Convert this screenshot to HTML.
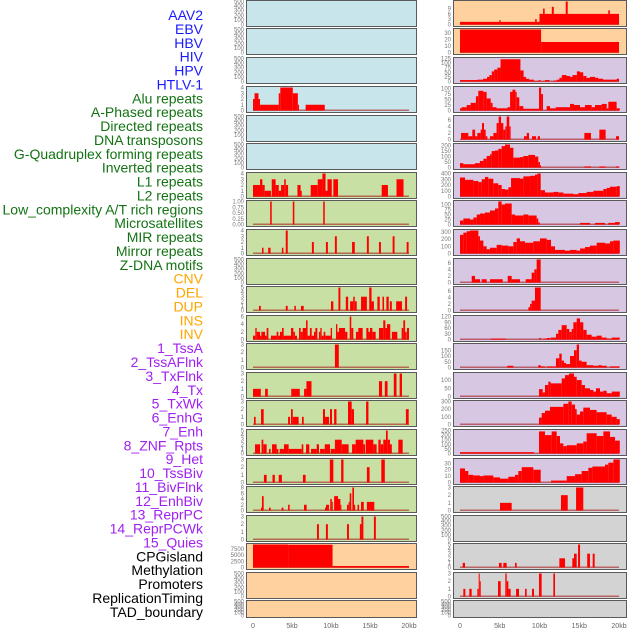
<!DOCTYPE html>
<html><head><meta charset="utf-8">
<style>
html,body{margin:0;padding:0;background:#fff;}
#chart{position:absolute;left:0;top:0;width:630px;height:630px;}
text{font-family:"Liberation Sans",sans-serif;}
</style></head>
<body>
<svg id="chart" width="630" height="630" viewBox="0 0 630 630" xmlns="http://www.w3.org/2000/svg"></svg>
<script>
// ---- Category labels ----
const labels = ["AAV2","EBV","HBV","HIV","HPV","HTLV-1","Alu repeats","A-Phased repeats","Directed repeats","DNA transposons","G-Quadruplex forming repeats","Inverted repeats","L1 repeats","L2 repeats","Low_complexity A/T rich regions","Microsatellites","MIR repeats","Mirror repeats","Z-DNA motifs","CNV","DEL","DUP","INS","INV","1_TssA","2_TssAFlnk","3_TxFlnk","4_Tx","5_TxWk","6_EnhG","7_Enh","8_ZNF_Rpts","9_Het","10_TssBiv","11_BivFlnk","12_EnhBiv","13_ReprPC","14_ReprPCWk","15_Quies","CPGisland","Methylation","Promoters","ReplicationTiming","TAD_boundary"];
const labelGroups = ["v","v","v","v","v","v","r","r","r","r","r","r","r","r","r","r","r","r","r","s","s","s","s","s","c","c","c","c","c","c","c","c","c","c","c","c","c","c","c","o","o","o","o","o"];
const xTickLabels = ["0","5kb","10kb","15kb","20kb"];
const xTickValues = [0,5,10,15,20];
const emptyTicks = [0,100,200,300,400,500];

// ---- Left column series: [startKb, endKb, value] ----
const L1=[],L2=[],L3=[],L5=[],L6=[],L10=[],L21=[],L22=[];
const L4=[[0,0.2,2],[0.2,0.7,3],[0.7,0.9,2],[0.9,3.3,1],[3.3,3.5,3],[3.5,5.1,4],[5.1,5.75,3],[5.75,5.9,1],[6.75,9.2,1]];
const L7=[[0,0.9,2],[0.9,1.2,3],[1.2,1.5,2],[1.5,2.3,1],[2.4,2.9,3],[2.9,3.3,2],[3.3,3.6,1],[3.6,4.0,2],[4.0,4.2,3],[4.2,4.5,2],[5.7,6.1,2],[6.1,6.25,1],[7.4,8.3,2],[8.3,8.9,3],[8.9,9.3,4],[9.3,9.55,1],[9.55,10.1,3],[10.3,10.9,3],[16.5,17.3,2],[18.4,19.3,3]];
const L8=[[2.2,2.4,1],[5.1,5.3,1],[9.0,9.2,1]];
const L9=[[1.15,1.35,1],[1.95,2.25,1],[3.7,3.9,1],[4.2,4.45,4],[7.55,7.8,2],[9.35,9.6,2],[10.5,10.75,3],[12.7,13.05,2],[14.6,14.85,3],[16.15,16.4,2],[17.9,18.15,3],[19.7,19.95,2]];
const L11=[[0.77,1.0,1],[4.2,4.45,1],[5.3,5.5,1],[6.15,6.5,1],[10,10.3,2],[10.95,11.2,5],[11.9,12.2,3],[12.45,12.85,2],[12.85,13.05,3],[13.05,13.3,2],[13.85,14.6,3],[14.9,15.2,5],[15.2,15.5,2],[15.95,16.25,3],[16.6,16.8,3],[17.1,17.4,3],[17.55,17.8,2],[18.35,19.1,2],[19.5,19.75,3]];
const L12=[[0,0.3,1],[0.3,0.47,3],[0.47,0.9,2],[0.9,1.07,1],[1.07,1.54,2],[1.54,1.75,1],[1.75,1.97,3],[2.3,3.03,1],[3.03,3.25,2],[3.25,3.46,1],[3.46,3.72,2],[3.72,3.93,3],[3.93,4.87,1],[4.87,5.17,3],[5.17,5.38,2],[5.38,5.64,1],[5.9,6.11,3],[6.11,6.37,2],[6.37,6.8,3],[6.8,7.0,5],[7.0,7.3,1],[7.3,7.52,3],[7.52,7.82,1],[7.82,8.0,2],[8.0,8.25,3],[8.46,8.63,2],[8.63,8.8,3],[8.8,9.06,1],[9.06,9.27,2],[9.27,9.96,1],[9.96,10.13,3],[10.64,10.81,4],[10.81,11.03,2],[11.03,11.8,3],[11.8,12.1,2],[12.4,12.6,6],[12.6,12.86,3],[13.2,13.5,2],[13.5,14.06,3],[14.53,14.8,3],[14.8,15,2],[15,15.3,3],[15.3,15.73,2],[16.15,16.7,3],[16.7,16.97,5],[16.97,17.18,3],[17.18,17.6,4],[17.8,18.5,2],[19.06,19.27,3],[19.27,19.5,5],[19.5,19.7,2],[19.74,20,3]];
const L13=[[10.5,11.0,3]];
const L14=[[0,1.0,1],[1.55,1.9,1],[4.9,6.0,1],[6.55,6.85,1],[6.85,7.5,2],[16.15,16.55,2],[16.9,17.25,2],[18.05,18.4,3],[18.8,19.1,3]];
const L15=[[0.13,0.34,1],[1.03,1.37,2],[4.5,4.74,1],[4.87,5.1,2],[5.1,5.85,1],[6.28,6.5,1],[8.97,9.23,2],[9.23,9.74,1],[9.87,10.13,2],[10.4,10.7,2],[12.18,12.65,3],[12.65,12.95,2],[14.5,14.8,3],[19.6,19.96,2]];
const L16=[[0.26,0.9,2],[1.1,1.32,3],[1.32,1.75,2],[2.05,2.26,1],[2.44,3.03,2],[3.03,3.25,1],[3.42,3.97,1],[3.97,4.57,2],[4.57,6.24,1],[6.24,6.45,2],[6.8,7.22,2],[7.44,8.16,1],[8.16,8.46,2],[8.6,9.2,1],[9.2,9.87,2],[9.96,10.5,1],[10.5,11.37,3],[11.37,12.26,2],[12.7,13.16,2],[13.16,14.15,3],[14.15,14.36,2],[14.45,15.43,3],[15.43,15.85,2],[16.07,16.37,3],[16.37,16.7,2],[16.7,17.05,3],[17.05,17.27,5],[17.27,17.56,3],[17.56,17.8,2],[18.63,19.19,3]];
const L17=[[1.4,1.75,1],[2.5,2.8,1],[3.3,3.7,1],[6.4,6.75,1],[9.85,10.3,3],[11.3,11.6,3],[14.6,14.95,2],[16.45,16.9,3]];
const L18=[[1.03,1.15,1],[1.15,1.37,5],[2.05,2.26,1],[3.67,3.9,1],[4.5,4.7,2],[6.54,6.88,2],[9.23,9.36,1],[9.36,9.74,2],[9.9,10.1,4],[10.1,10.2,3],[10.4,10.9,5],[10.9,11.2,4],[11.2,11.3,2],[12.05,12.26,2],[12.26,12.4,3],[12.4,12.6,6],[12.74,12.95,8],[12.95,13.1,2],[13.4,13.6,2],[13.85,14.2,3],[14.6,15.55,3]];
const L19=[[8.2,8.45,2],[9.35,9.6,2],[12.05,12.3,2],[13.7,13.9,2],[13.9,14.15,3],[15.5,15.75,3]];
const L20=[[0,4.5,9300],[4.5,10.2,9200],[10.2,20,600]];

// ---- Right column series ----
const R19=[],R22=[];
const R1=[[0,10,1.5],[4.95,5.1,2.5],[9.45,9.65,3],[10,20,6],[10.45,10.65,9],[11.55,11.8,10],[13.3,13.55,13],[18.65,18.85,8]];
const R2=[[0,10.2,35],[10.2,20,16]];
const R3=[[0,2.2,8],[2.2,2.9,10],[2.9,3.4,15],[3.4,3.7,25],[3.7,4.0,35],[4.0,4.3,55],[4.3,4.7,65],[4.7,5.1,75],[5.1,7.6,121],[7.6,8.0,60],[8.0,8.3,25],[8.3,8.7,15],[8.7,9.3,10],[9.3,9.9,3],[9.9,10.1,8],[10.1,10.7,2],[10.7,11.25,8],[11.75,12.15,5],[12.15,12.5,10],[12.5,12.8,20],[12.8,13.4,35],[13.4,13.85,30],[13.85,14.15,25],[14.15,14.7,35],[14.7,15.1,55],[15.1,15.5,50],[15.5,15.9,30],[15.9,16.35,20],[16.35,17.0,25],[17.0,17.4,20],[17.4,18.0,15],[18.0,19.7,10],[19.7,20,15]];
const R4=[[0,0.2,10],[0.2,0.84,15],[0.84,1.34,25],[1.34,2.0,35],[2.0,2.3,65],[2.3,2.93,90],[2.93,3.35,85],[3.35,3.86,55],[3.86,4.1,35],[4.1,4.6,15],[4.6,5.95,10],[5.95,6.3,15],[6.3,6.6,85],[6.6,6.96,95],[6.96,7.13,85],[7.13,7.46,60],[7.46,7.97,20],[7.97,9.94,8],[9.94,10.2,105],[10.2,10.44,75],[10.9,11.32,20],[11.32,12.03,10],[12.03,13.84,15],[13.84,14.34,30],[14.34,15.1,25],[15.1,15.72,15],[15.72,16.56,25],[16.56,16.98,15],[16.98,17.82,25],[17.82,18.45,30],[18.45,18.66,10],[18.66,19.7,40],[19.7,20.1,10]];
const R5=[[0.13,1.05,2],[1.05,1.55,1],[1.55,1.9,3],[1.9,2.18,1],[2.18,2.6,2],[2.6,2.77,3],[2.77,3.02,5],[3.02,3.23,3],[3.23,3.44,1],[3.77,4.2,1],[4.2,4.6,2],[4.6,4.86,5],[4.86,5.16,7],[5.16,5.45,5],[5.45,5.7,3],[5.7,5.87,4],[5.87,6.2,7],[6.2,6.37,4],[8.05,8.4,1],[8.4,8.68,2],[9.06,9.56,1],[9.77,10.06,1],[15.64,16.48,2],[17.53,18.32,3],[19.62,20,1]];
const R6=[[0,0.42,40],[0.42,1.89,30],[1.89,2.5,40],[2.5,2.94,60],[2.94,3.35,80],[3.35,3.77,105],[3.77,3.98,120],[3.98,4.4,150],[4.4,4.82,155],[4.82,5.24,170],[5.24,5.66,195],[5.66,6.29,210],[6.29,6.71,180],[6.71,7.55,90],[7.55,7.97,95],[7.97,8.6,105],[8.6,9.43,115],[9.43,9.85,100],[9.85,10.06,50],[10.06,10.15,20],[15.64,16.48,10],[17.53,18.32,10],[19.62,20.06,10]];
const R7=[[0,0.63,330],[0.63,1.68,290],[1.68,2.31,270],[2.31,2.73,250],[2.73,3.14,300],[3.14,3.56,340],[3.56,4.19,310],[4.19,4.82,230],[4.82,5.24,200],[5.24,5.66,130],[5.66,6.08,120],[6.08,6.42,160],[6.42,7.55,320],[7.55,7.97,310],[7.97,8.81,350],[8.81,9.43,360],[9.43,9.73,380],[9.73,10.15,400],[10.15,10.69,110],[10.69,11.11,70],[11.11,11.74,70],[11.74,12.37,80],[12.37,13.0,70],[13.0,14.26,50],[14.26,14.88,40],[14.88,15.93,60],[15.93,16.77,80],[16.77,18.03,100],[18.03,18.45,130],[18.45,18.87,150],[18.87,19.71,170],[19.71,20.1,180]];
const R8=[[0,0.42,20],[0.42,1.26,30],[1.26,1.68,25],[1.68,2.1,35],[2.1,2.52,50],[2.52,3.14,55],[3.14,3.77,60],[3.77,4.4,70],[4.4,4.82,80],[4.82,5.24,115],[5.24,5.66,100],[5.66,6.5,105],[6.5,6.92,50],[6.92,7.97,45],[7.97,8.6,50],[8.6,9.64,45],[9.64,9.85,30],[9.85,10.06,10],[15.1,16.35,8],[16.98,18.24,8],[18.66,19.5,8],[19.5,20.1,12]];
const R9=[[0,0.42,260],[0.42,0.84,290],[0.84,1.26,310],[1.26,2.31,320],[2.31,2.52,240],[2.52,2.94,180],[2.94,3.35,100],[3.35,3.77,60],[3.77,4.61,80],[4.61,5.24,120],[5.24,6.08,110],[6.08,6.71,100],[6.71,7.13,160],[7.13,7.55,210],[7.55,8.18,170],[8.18,9.22,150],[9.22,10.06,170],[10.06,10.9,210],[10.9,11.45,190],[11.45,11.95,100],[11.95,13.2,50],[13.2,13.84,40],[13.84,14.68,50],[14.68,15.1,40],[15.1,15.72,70],[15.72,16.35,90],[16.35,17.19,110],[17.19,18.24,150],[18.24,18.87,140],[18.87,19.29,170],[19.29,20.1,180]];
const R10=[[1.47,1.89,2],[1.89,2.52,1],[2.73,3.35,1],[3.77,5.37,1],[6.0,6.5,2],[6.5,7.55,1],[8.26,9.01,1],[9.01,9.35,3],[9.35,9.64,4],[9.64,10.15,7]];
const R11=[[8.6,8.81,1],[8.81,9.01,2],[9.01,9.43,3],[9.43,10.15,7]];
const R12=[[3.9,5.8,5],[9.98,10.2,8],[10.48,10.9,5],[10.9,11.32,8],[11.4,12.07,10],[12.07,12.37,30],[12.37,12.79,50],[12.79,13.42,75],[13.42,13.75,55],[13.75,14.05,40],[14.05,14.26,55],[14.26,14.68,90],[14.68,15.1,110],[15.1,15.51,90],[15.51,15.93,50],[15.93,16.56,25],[16.56,17.19,15],[17.19,17.82,20],[17.82,18.45,10],[18.45,19.08,5],[19.08,20.1,10]];
const R13=[[5.95,6.71,15],[9.85,10.15,20],[10.15,10.69,10],[10.9,12.07,10],[12.07,12.49,80],[12.49,12.79,120],[12.79,13.08,60],[13.08,13.34,40],[13.34,13.84,30],[13.84,14.34,100],[14.34,14.68,150],[14.68,14.97,200],[14.97,15.3,60],[15.3,15.93,50],[15.93,16.77,20],[16.77,17.4,15],[17.4,17.82,20],[17.82,18.45,15],[18.87,20.1,10]];
const R14=[[9.94,10.4,45],[10.4,10.69,25],[10.69,11.11,70],[11.11,11.4,90],[11.4,12.79,80],[12.79,13.21,110],[13.21,13.71,130],[13.71,14.34,140],[14.34,14.68,120],[14.68,15.3,100],[15.3,15.72,70],[15.72,16.35,50],[16.35,16.77,40],[16.77,17.1,30],[17.1,17.61,50],[17.61,18.03,30],[18.03,18.45,35],[18.45,19.08,20],[19.08,20.1,30]];
const R15=[[9.94,10.27,90],[10.27,10.69,150],[10.69,11.32,180],[11.32,13.0,230],[13.0,13.63,270],[13.63,14.05,300],[14.05,14.47,260],[14.47,14.68,200],[14.68,15.1,130],[15.1,15.51,170],[15.51,16.35,220],[16.35,17.19,190],[17.19,18.45,160],[18.45,19.08,130],[19.08,19.71,100],[19.71,20.1,70]];
const R16=[[0,9.31,15],[9.94,10.69,240],[10.69,11.53,200],[11.53,12.16,240],[12.16,12.58,190],[12.58,13.0,110],[13.0,13.42,80],[13.42,14.68,90],[14.68,15.51,110],[15.51,15.93,130],[15.93,17.19,220],[17.19,18.03,190],[18.03,18.87,240],[18.87,19.5,180],[19.5,20.1,140]];
const R17=[[0,0.63,22],[0.63,1.05,18],[1.05,1.68,12],[1.68,2.52,11],[2.52,2.94,10],[2.94,4.19,11],[4.19,5.03,8],[5.03,6.08,6],[6.08,6.92,9],[6.92,7.34,12],[7.34,7.76,18],[7.76,9.22,24],[9.22,10.15,20],[11.45,13.42,3],[13.42,14.47,10],[14.47,15.3,13],[15.3,16.14,18],[16.14,16.65,23],[16.65,18.24,25],[18.24,18.66,28],[18.66,19.29,31],[19.29,20.1,36]];
const R18=[[5.03,6.5,1],[12.7,13.55,2],[14.6,15.51,3]];
const R20=[[0.34,0.63,1],[4.9,5.24,1],[5.45,5.87,1],[6.92,7.13,1],[12.5,13.21,2],[14.13,14.34,2],[14.34,14.68,3],[14.85,15.1,5],[16.0,16.35,3],[16.69,16.94,3]];
const R21=[[0.42,0.67,1],[1.17,1.47,1],[2.18,2.35,1],[2.35,2.48,3],[2.48,2.6,2],[4.78,5.12,2],[5.7,5.87,3],[5.87,6.08,2],[6.08,6.37,1],[7.05,7.42,1],[8.18,8.39,1],[9.06,9.31,1],[9.94,10.27,3],[11.74,11.95,3]];

// ---- Tick labels per panel ----
const leftTicks=[emptyTicks,emptyTicks,emptyTicks,[0,1,2,3,4],emptyTicks,emptyTicks,[0,1,2,3,4],[0,0.25,0.5,0.75,1],[0,1,2,3,4],emptyTicks,[0,1,2,3,4,5],[0,2,4,6],[0,1,2,3],[0,1,2,3],[0,1,2,3],[0,1,2,3,4,5],[0,1,2,3],[0,2,4,6,8],[0,1,2,3],[0,2500,5000,7500],emptyTicks,emptyTicks];
const rightTicks=[[0,3,6,9],[0,10,20,30],[0,25,50,75,100,125],[0,25,50,75,100],[0,2,4,6],[0,50,100,150,200],[0,100,200,300,400],[0,25,50,75,100],[0,100,200,300],[0,2,4,6],[0,2,4,6],[0,30,60,90,120],[0,50,100,150],[0,50,100],[0,100,200,300],[0,50,100,150,200,250],[0,10,20,30],[0,1,2,3],emptyTicks,[0,1,2,3,4,5],[0,1,2,3],emptyTicks];
const leftSeries=[L1,L2,L3,L4,L5,L6,L7,L8,L9,L10,L11,L12,L13,L14,L15,L16,L17,L18,L19,L20,L21,L22];
const rightSeries=[R1,R2,R3,R4,R5,R6,R7,R8,R9,R10,R11,R12,R13,R14,R15,R16,R17,R18,R19,R20,R21,R22];
const leftFill=["b","b","b","b","b","b","g","g","g","g","g","g","g","g","g","g","g","g","g","p","p","p"];
const rightFill=["p","p","u","u","u","u","u","u","u","u","u","u","u","u","u","u","u","x","x","x","x","x"];

// ---- layout (not data) ----
const NS="http://www.w3.org/2000/svg";
const svg=document.getElementById('chart');
const fillColors={b:"#c9e5ec",g:"#c8e0a3",p:"#ffd19f",u:"#d7c7e3",x:"#d3d3d3"};
const groupColors={v:"#1a1aff",r:"#137313",s:"#ffa500",c:"#a020f0",o:"#000000"};
const panelTops=[0,28,57,86,115,143,172,200,229,258,286,315,343,372,400,429,458,486,515,543,572,600];
function mk(tag,attrs){const e=document.createElementNS(NS,tag);for(const k in attrs)e.setAttribute(k,attrs[k]);svg.appendChild(e);return e;}

labels.forEach((t,i)=>{
  const e=mk('text',{x:203,y:(20+i*13.88).toFixed(1),'text-anchor':'end','font-size':'14',fill:groupColors[labelGroups[i]]});
  e.textContent=t;
  
  
});

function drawColumn(series,ticks,fills,px,pw,x0,x1,tickX,side){
  const xs=kb=>x0+(kb/20)*(x1-x0);
  series.forEach((segs,i)=>{
    const top=panelTops[i];
    const h=(i===21)?17:26;
    const r=mk('rect',{x:px+0.5,y:top+0.5,width:pw,height:h,fill:fillColors[fills[i]],stroke:'#5a5a5a','stroke-width':1});
    
    
    const tk=ticks[i];
    const tmax=tk[tk.length-1];
    const frac=tk.some(v=>v%1!==0);
    let dmax=0; segs.forEach(s=>{if(s[2]>dmax)dmax=s[2];});
    const ymax=Math.max(tmax,dmax)||1;
    const yb=top+h-1.5, yt=top+1.5;
    const ys=v=>yb-(v/ymax)*(yb-yt);
    tk.forEach(v=>{
      const t=mk('text',{x:tickX,y:(ys(v)+2).toFixed(1),'text-anchor':'end','font-size':'6',fill:'#777'});
      t.textContent=frac?v.toFixed(2):String(v);
      
      
    });
    if(segs.length){
      const bl=mk('rect',{x:xs(0),y:yb-1,width:xs(20)-xs(0),height:1.5,fill:'rgba(170,40,40,0.65)'});
      
      
    }
    segs.forEach(s=>{
      const y=Math.max(ys(s[2]),top+1);
      const b=mk('rect',{x:xs(s[0]).toFixed(2),y:y.toFixed(2),width:Math.max(xs(s[1])-xs(s[0]),1).toFixed(2),height:(yb-y).toFixed(2),fill:'#ff0000'});
      
      
    });
  });
  xTickValues.forEach((v,j)=>{
    const t=mk('text',{x:xs(v),y:628,'text-anchor':'middle','font-size':'7',fill:'#666'});
    t.textContent=xTickLabels[j];
    
    
  });
}
drawColumn(leftSeries,leftTicks,leftFill,246,170,253,409,244,'left');
drawColumn(rightSeries,rightTicks,rightFill,453,173,460,619,451,'right');
</script>
</body></html>
